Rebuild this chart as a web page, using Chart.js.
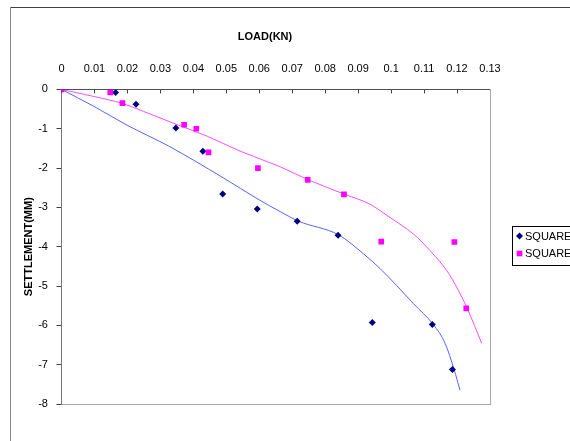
<!DOCTYPE html>
<html>
<head>
<meta charset="utf-8">
<script src="https://cdn.jsdelivr.net/npm/chart.js@4"></script>
<style>
  html, body { margin: 0; padding: 0; background: #fff; overflow: hidden; }
  #chart { display: block; }
</style>
</head>
<body>
<canvas id="chart" width="570" height="441"></canvas>
<script>
// load (kN) against settlement (mm)
const loadA = [0, 0.0164, 0.0226, 0.0347, 0.0429, 0.0489, 0.0594, 0.0715, 0.0839, 0.0943, 0.1125, 0.1186];
const settleA = [0, -0.08, -0.38, -0.98, -1.57, -2.66, -3.04, -3.35, -3.71, -5.93, -5.98, -7.12];

const loadB = [0, 0.0148, 0.0185, 0.0372, 0.0409, 0.0446, 0.0596, 0.0747, 0.0857, 0.0970, 0.1192, 0.1228];
const settleB = [0, -0.08, -0.35, -0.90, -1.00, -1.60, -2.00, -2.30, -2.67, -3.87, -3.88, -5.57];

// trendlines as traced on the picture
const trendLoadA = [0, 0.0098, 0.0199, 0.0325, 0.0491, 0.0596, 0.0664, 0.0719, 0.0841, 0.0916, 0.0967, 0.1017, 0.1068, 0.1128, 0.1164, 0.1191, 0.1209];
const trendSettleA = [0, -0.43, -0.91, -1.44, -2.25, -2.79, -3.11, -3.35, -3.70, -4.18, -4.56, -4.99, -5.45, -5.98, -6.46, -7.12, -7.65];

const trendLoadB = [0, 0.0098, 0.0186, 0.0249, 0.0355, 0.0442, 0.0542, 0.0664, 0.0749, 0.0860, 0.0936, 0.0997, 0.1068, 0.1118, 0.1169, 0.1199, 0.1231, 0.1275];
const trendSettleB = [0, -0.18, -0.36, -0.56, -0.91, -1.19, -1.57, -1.97, -2.30, -2.67, -2.92, -3.26, -3.68, -4.10, -4.61, -5.03, -5.57, -6.46];

const seriesNames = ["SQUARE(UNREINFORCED)", "SQUARE(REINFORCED)"];
const xTicks = [0, 0.01, 0.02, 0.03, 0.04, 0.05, 0.06, 0.07, 0.08, 0.09, 0.1, 0.11, 0.12, 0.13];
const yTicks = [0, -1, -2, -3, -4, -5, -6, -7, -8];

const FONT = "'Liberation Sans', Arial, sans-serif";

function pts(xs, ys) {
  return xs.map((x, i) => ({ x: x, y: ys[i] }));
}

// outer frame + bottom edge of the plot
const framePlugin = {
  id: "frame",
  beforeDraw(chart) {
    const c = chart.ctx, a = chart.chartArea;
    c.save();
    c.lineWidth = 1;
    c.strokeStyle = "#404040";
    c.beginPath();
    c.moveTo(10, 7.5);
    c.lineTo(570, 7.5);
    c.stroke();
    c.strokeStyle = "#8a8a8a";
    c.beginPath();
    c.moveTo(10.5, 7);
    c.lineTo(10.5, 441);
    c.stroke();
    c.strokeStyle = "#a8a8a8";
    c.beginPath();
    c.moveTo(a.left, Math.round(a.bottom) + 0.5);
    c.lineTo(a.right, Math.round(a.bottom) + 0.5);
    c.stroke();
    c.restore();
  },
};

// legend box on the right, cut off by the window like the original
const legendPlugin = {
  id: "boxLegend",
  afterDraw(chart) {
    const c = chart.ctx;
    c.save();
    c.strokeStyle = "#000";
    c.lineWidth = 1;
    c.strokeRect(512.5, 226.5, 100, 39);
    c.font = "11px " + FONT;
    c.textBaseline = "middle";
    [0, 1].forEach((i) => {
      const ds = chart.data.datasets[i];
      const y = 236 + i * 17.5;
      c.fillStyle = ds.backgroundColor;
      Chart.helpers.drawPoint(c, { pointStyle: ds.pointStyle, radius: ds.pointRadius, rotation: 0, borderWidth: 0 }, 519.5, y);
      c.fillStyle = "#000";
      c.fillText(seriesNames[i], 525, y + 0.5);
    });
    c.restore();
  },
};

new Chart(document.getElementById("chart"), {
  type: "scatter",
  data: {
    datasets: [
      {
        label: seriesNames[0],
        data: pts(loadA, settleA),
        pointStyle: "rectRot",
        pointRadius: 3.5,
        backgroundColor: "#000080",
        borderWidth: 0,
        order: 1,
      },
      {
        label: seriesNames[1],
        data: pts(loadB, settleB),
        pointStyle: "rect",
        pointRadius: 4,
        backgroundColor: "#ff00ff",
        borderWidth: 0,
        order: 0,
      },
      {
        label: "trend A",
        data: pts(trendLoadA, trendSettleA),
        showLine: true,
        pointRadius: 0,
        borderColor: "#5364ff",
        borderWidth: 1,
        cubicInterpolationMode: "monotone",
        order: 2,
      },
      {
        label: "trend B",
        data: pts(trendLoadB, trendSettleB),
        showLine: true,
        pointRadius: 0,
        borderColor: "#ff4cff",
        borderWidth: 1,
        cubicInterpolationMode: "monotone",
        order: 3,
      },
    ],
  },
  options: {
    responsive: false,
    animation: false,
    events: [],
    layout: {
      padding: { left: 8.5, right: 48.5, top: 20, bottom: 37 },
    },
    plugins: {
      legend: { display: false },
      tooltip: { enabled: false },
      title: {
        display: true,
        text: "LOAD(KN)",
        color: "#000",
        font: { family: FONT, size: 11, weight: "bold" },
        padding: { top: 10.4, bottom: 1.8 },
      },
    },
    scales: {
      x: {
        type: "linear",
        position: "top",
        min: 0,
        max: 0.13,
        afterBuildTicks: (s) => { s.ticks = xTicks.map((v) => ({ value: v })); },
        ticks: {
          color: "#000",
          font: { family: FONT, size: 11 },
          padding: 17.4,
          maxRotation: 0,
          autoSkip: false,
          callback: (v) => String(+v.toFixed(2)),
        },
        grid: { drawOnChartArea: false, tickLength: -4, color: "#404040" },
        border: { color: "#505050" },
      },
      y: {
        type: "linear",
        position: "left",
        min: -8,
        max: 0,
        afterBuildTicks: (s) => { s.ticks = yTicks.map((v) => ({ value: v })); },
        title: {
          display: true,
          text: "SETTLEMENT(MM)",
          color: "#000",
          font: { family: FONT, size: 11, weight: "bold" },
          padding: { top: 14, bottom: -6 },
        },
        ticks: {
          color: "#000",
          font: { family: FONT, size: 11 },
          padding: 8.5,
          callback: (v) => String(v),
        },
        grid: { drawOnChartArea: false, tickLength: 5, color: "#404040" },
        border: { color: "#777" },
      },
      y2: {
        type: "linear",
        position: "right",
        min: -8,
        max: 0,
        ticks: { display: false },
        grid: { drawOnChartArea: false, drawTicks: false },
        border: { color: "#a8a8a8" },
        afterFit: (s) => { s.width = 31.5; },
      },
    },
  },
  plugins: [framePlugin, legendPlugin],
});
</script>
</body>
</html>
